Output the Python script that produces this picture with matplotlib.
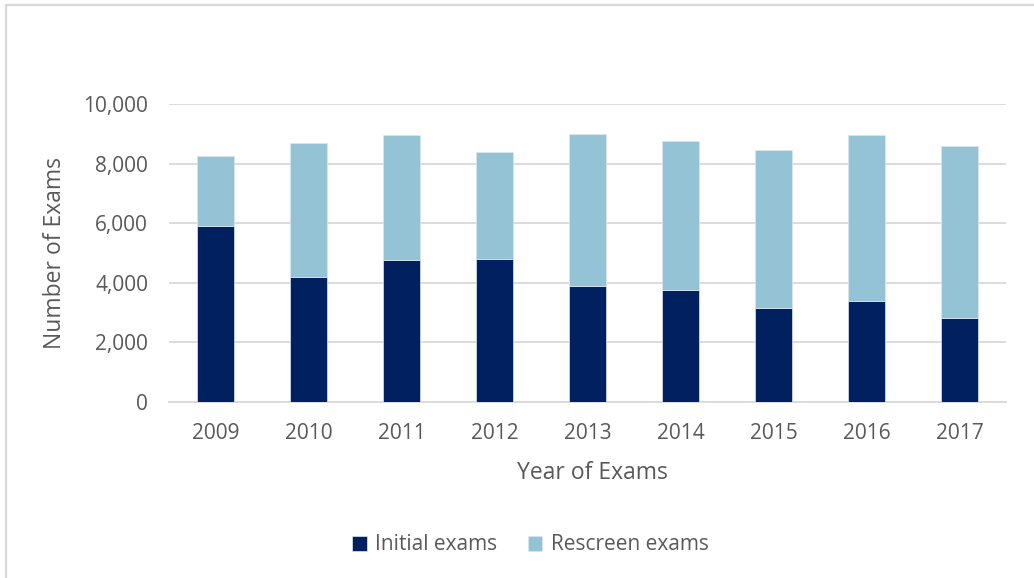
import matplotlib
matplotlib.use("Agg")
import matplotlib.pyplot as plt
from matplotlib.patches import Rectangle
from matplotlib.ticker import FuncFormatter
import numpy as np

# values
years = ["2009", "2010", "2011", "2012", "2013", "2014", "2015", "2016", "2017"]
initial_exams = [5910, 4190, 4750, 4800, 3900, 3760, 3160, 3390, 2800]
total_exams = [8240, 8690, 8950, 8390, 8980, 8760, 8440, 8960, 8590]
rescreen_exams = [t - i for t, i in zip(total_exams, initial_exams)]

NAVY = "#002060"
LIGHT = "#93c3d5"
TEXT = "#595959"
GRID = "#d9d9d9"

plt.rcParams["font.family"] = ["Open Sans", "DejaVu Sans"]

fig = plt.figure(figsize=(10.34, 5.78), dpi=100)
ax = fig.add_axes([0.1634, 0.305, 0.8095, 0.515])

x = np.arange(len(years))
width = 0.405
ax.bar(x, initial_exams, width=width, color=NAVY, edgecolor="#dde6ee", linewidth=0.5,
       label="Initial exams", zorder=3)
ax.bar(x, rescreen_exams, width=width, bottom=initial_exams, color=LIGHT,
       edgecolor="#dde6ee", linewidth=0.5, label="Rescreen exams", zorder=3)

ax.set_xlim(-0.5, len(years) - 0.5)
ax.set_ylim(0, 10000)
ax.set_yticks(range(0, 10001, 2000))
ax.yaxis.set_major_formatter(FuncFormatter(lambda v, p: f"{int(v):,}"))
ax.set_xticks(x)
ax.set_xticklabels(years)

ax.grid(axis="y", color=GRID, linewidth=1.3, zorder=0)
for s in ["top", "right", "left"]:
    ax.spines[s].set_visible(False)
ax.spines["bottom"].set_color(GRID)
ax.spines["bottom"].set_linewidth(1.3)

ax.tick_params(axis="both", length=0, labelsize=15, colors=TEXT)
ax.tick_params(axis="y", pad=15)
ax.tick_params(axis="x", pad=15.5)

ax.set_ylabel("Number of Exams", fontsize=16.5, color=TEXT)
ax.yaxis.set_label_coords(-0.122, 0.5)
ax.set_xlabel("Year of Exams", fontsize=16.5, color=TEXT)
ax.xaxis.set_label_coords(0.506, -0.2)

handles, labels = ax.get_legend_handles_labels()
fig.legend(handles, labels, loc="center", bbox_to_anchor=(0.513, 1 - 545 / 578), ncol=2,
           frameon=False, fontsize=15, labelcolor=TEXT, handlelength=0.7,
           handleheight=0.7, handletextpad=0.4, columnspacing=1.45)

# light grey frame of the chart area (cut off at right and bottom)
fig.patches.append(Rectangle((5.5 / 1034, -0.1), 1.2, 1 - 5.5 / 578 + 0.1,
                             transform=fig.transFigure, fill=False,
                             edgecolor=GRID, linewidth=1.6))

fig.savefig("out.png", dpi=100)
